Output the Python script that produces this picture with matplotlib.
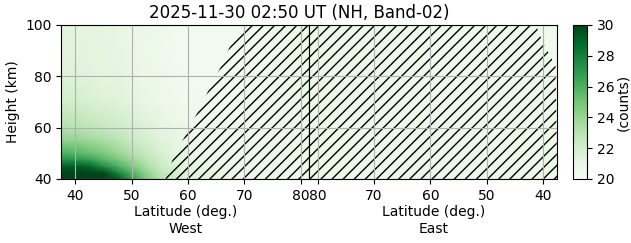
import numpy as np
import matplotlib
matplotlib.use('Agg')
from matplotlib import pyplot as plt

# West panel field (counts), rows = heights, cols = latitudes
west_lat = [37.5, 40, 42.5, 45, 47.5, 50, 52.5, 55, 57.5, 60, 65, 70, 75, 81.5]
west_hgt = [40, 42.5, 45, 47.5, 50, 55, 60, 70, 80, 90, 100]
west_counts = [
    [32.0, 32.0, 32.0, 31.0, 29.5, 27.0, 24.8, 23.2, 22.1, 21.5, 21.0, 20.8, 20.8, 20.8],
    [31.0, 31.5, 31.0, 29.8, 27.8, 25.8, 24.2, 22.8, 22.0, 21.4, 20.9, 20.8, 20.8, 20.8],
    [29.0, 29.2, 28.8, 27.4, 26.0, 24.7, 23.4, 22.4, 21.7, 21.2, 20.8, 20.7, 20.7, 20.8],
    [27.3, 27.2, 26.7, 25.7, 24.9, 23.9, 22.9, 22.1, 21.5, 21.1, 20.7, 20.6, 20.7, 20.8],
    [26.0, 25.8, 25.3, 24.7, 24.0, 23.2, 22.5, 21.8, 21.3, 20.9, 20.6, 20.6, 20.7, 20.8],
    [24.2, 24.1, 23.8, 23.4, 22.9, 22.4, 21.9, 21.5, 21.1, 20.8, 20.5, 20.5, 20.6, 20.8],
    [23.1, 23.0, 22.8, 22.5, 22.2, 21.9, 21.6, 21.2, 20.9, 20.7, 20.5, 20.5, 20.6, 20.8],
    [22.0, 22.0, 21.8, 21.6, 21.5, 21.3, 21.0, 20.8, 20.6, 20.5, 20.4, 20.4, 20.6, 20.8],
    [21.5, 21.5, 21.4, 21.3, 21.2, 21.0, 20.8, 20.7, 20.5, 20.4, 20.4, 20.4, 20.6, 20.8],
    [21.4, 21.4, 21.3, 21.2, 21.1, 20.9, 20.8, 20.6, 20.4, 20.4, 20.4, 20.4, 20.6, 20.8],
    [21.3, 21.3, 21.2, 21.1, 21.0, 20.9, 20.7, 20.6, 20.4, 20.4, 20.4, 20.4, 20.6, 20.8],
]

# East panel field (nearly flat)
east_lat = [37.5, 50, 60, 70, 81.5]
east_hgt = [40, 70, 100]
east_counts = [
    [20.8, 20.7, 20.7, 20.7, 20.8],
    [20.7, 20.6, 20.6, 20.7, 20.8],
    [20.5, 20.6, 20.6, 20.7, 20.8],
]

# edge of the hatched (masked) zone, latitude vs height
west_edge_hgt = [40, 47.8, 56.5, 66.9, 74, 82.8, 91.5, 100]
west_edge_lat = [56, 57.3, 59.4, 61.9, 63.5, 65.6, 67.4, 70.2]
east_edge_hgt = [40, 84, 93, 100]
east_edge_lat = [37.5, 37.8, 40, 41.3]

lat_ticks = [40, 50, 60, 70, 80]
cbar_ticks = [20, 22, 24, 26, 28, 30]
latmin, latmax = 37.5, 81.5

fig = plt.figure(figsize=(6.31, 2.43), dpi=100)
axW = fig.add_axes([0.0971, 0.2634, 0.393, 0.634])
axE = fig.add_axes([0.4901, 0.2634, 0.393, 0.634])
cax = fig.add_axes([0.9076, 0.2634, 0.0232, 0.634])

XW, YW = np.meshgrid(west_lat, west_hgt)
pc = axW.pcolormesh(XW, YW, np.array(west_counts), cmap='Greens', vmin=20, vmax=30,
                    shading='gouraud', zorder=0)
XE, YE = np.meshgrid(east_lat, east_hgt)
axE.pcolormesh(XE, YE, np.array(east_counts), cmap='Greens', vmin=20, vmax=30,
               shading='gouraud', zorder=0)

axW.fill_betweenx(west_edge_hgt, west_edge_lat, latmax, facecolor='none',
                  edgecolor='k', hatch='///', linewidth=0, zorder=1)
axE.fill_betweenx(east_edge_hgt, east_edge_lat, latmax, facecolor='none',
                  edgecolor='k', hatch='///', linewidth=0, zorder=1)

axW.set_xlim(latmin, latmax)
axE.set_xlim(latmax, latmin)
for ax in (axW, axE):
    ax.set_ylim(40, 100)
    ax.set_xticks(lat_ticks)
    ax.set_yticks([40, 60, 80, 100])
    ax.grid(True)

axE.tick_params(left=False, labelleft=False)
axW.set_ylabel('Height (km)')
axW.set_xlabel('Latitude (deg.)\nWest', labelpad=2)
axE.set_xlabel('Latitude (deg.)\nEast', labelpad=2)

cb = fig.colorbar(pc, cax=cax, ticks=cbar_ticks)
cb.set_label('(counts)', labelpad=1)

fig.text(0.4735, 1 - 12.5 / 243, '2025-11-30 02:50 UT (NH, Band-02)',
         ha='center', va='center', fontsize=12)

fig.savefig('out.png', dpi=100)
